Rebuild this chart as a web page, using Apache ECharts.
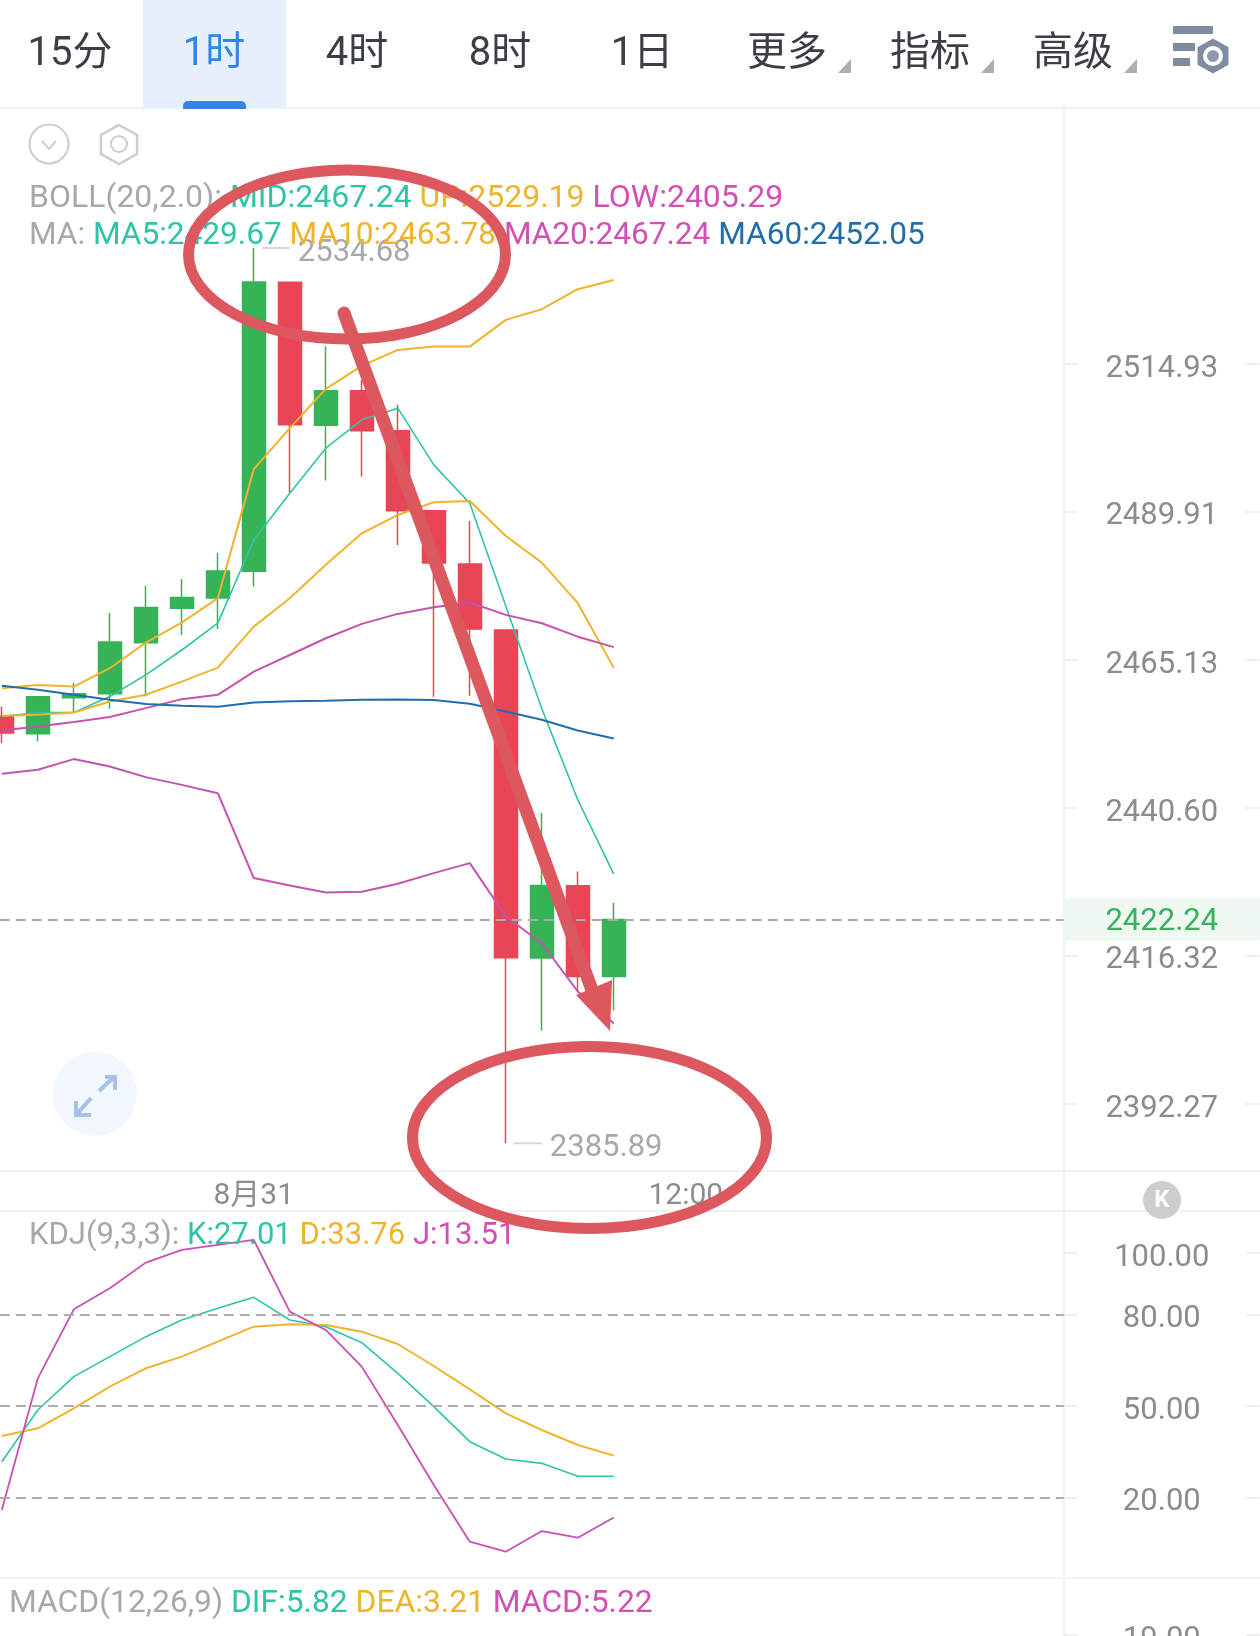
<!DOCTYPE html>
<html><head><meta charset="utf-8">
<style>html,body{margin:0;padding:0;background:#fff}#c{width:1260px;height:1636px}</style>
<script src="https://cdn.jsdelivr.net/npm/echarts@6/dist/echarts.min.js"></script>
</head><body><div id="c"></div>
<script>
const categories = ['','','','','','','','8月31','','','','','','','','','','','','12:00','','','','','','','','','',''];
// [open, close, low, high]
const candles = [
 [2455.70,2452.95,2451.29,2457.36],
 [2452.83,2458.97,2451.56,2458.97],
 [2458.80,2459.46,2456.31,2461.29],
 [2459.46,2468.10,2456.98,2472.95],
 [2467.98,2473.84,2459.02,2477.47],
 [2473.74,2475.51,2469.27,2478.64],
 [2475.46,2479.98,2470.27,2483.00],
 [2479.90,2528.88,2477.35,2534.68],
 [2528.80,2504.58,2493.08,2528.80],
 [2504.50,2510.33,2495.16,2517.96],
 [2510.33,2503.57,2495.84,2512.19],
 [2503.57,2490.08,2484.34,2507.96],
 [2490.08,2481.32,2458.97,2490.08],
 [2481.15,2470.27,2459.13,2488.35],
 [2470.11,2416.01,2385.89,2470.11],
 [2415.96,2427.82,2404.15,2439.80],
 [2427.77,2412.92,2410.49,2430.11],
 [2412.92,2422.24,2407.40,2424.98]
];
const ma5 = [2455.70,2456.36,2456.36,2459.02,2462.61,2466.76,2471.23,2485.17,2493.02,2500.63,2505.43,2507.40,2497.81,2491.33,2474.12,2456.98,2441.90,2429.67];
const ma10 = [2455.82,2455.98,2456.36,2458.19,2459.30,2461.50,2463.82,2470.66,2475.41,2480.99,2486.29,2489.36,2491.50,2491.72,2485.84,2481.37,2474.58,2463.78];
const ma20 = [2453.38,2454.04,2454.77,2455.60,2457.09,2458.58,2459.30,2463.16,2465.92,2468.72,2471.11,2472.78,2473.91,2474.68,2472.62,2471.23,2468.98,2467.24];
const ma60 = [2460.79,2460.13,2459.30,2458.47,2457.76,2457.47,2457.31,2458.02,2458.25,2458.30,2458.47,2458.52,2458.42,2457.81,2456.53,2455.15,2453.38,2452.05];
const bollUp = [2460.41,2460.95,2460.67,2463.72,2467.98,2471.33,2475.41,2497.09,2504.02,2510.67,2514.56,2517.28,2517.85,2517.85,2522.40,2524.22,2527.63,2529.19];
const bollLow = [2446.21,2446.87,2448.64,2447.42,2445.66,2444.38,2443.01,2429.03,2427.82,2426.67,2426.78,2428.10,2429.85,2431.49,2422.73,2418.36,2410.49,2405.29];
const kLine = [31.79,48.70,59.60,66.15,72.69,78.15,81.96,85.56,78.15,75.96,70.73,60.69,49.79,38.33,32.66,31.24,27.01,27.01];
const dLine = [40.19,42.70,49.24,56.33,62.33,66.15,71.06,75.96,76.73,76.51,74.33,70.29,63.09,55.46,47.60,42.15,37.24,33.76];
const jLine = [15.97,59.06,81.64,88.51,96.91,101.05,102.69,104.32,80.87,74.87,62.88,43.79,24.15,5.61,2.34,9.10,6.92,13.51];
const priceTicks = [2514.93,2489.91,2465.13,2440.60,2416.32,2392.27];
const kdjTicks = [100,80,50,20];
const kdjDashed = [80,50,20];
const macdTicks = [19];
const lastPrice = 2422.24, highPrice = 2534.68, lowPrice = 2385.89;
const tabs = ['15分','1时','4时','8时','1日','更多','指标','高级'];
const bollLegend = ['BOLL(20,2.0): ','MID:2467.24 ','UP:2529.19 ','LOW:2405.29'];
const maLegend = ['MA: ','MA5:2429.67 ','MA10:2463.78 ','MA20:2467.24 ','MA60:2452.05'];
const kdjLegend = ['KDJ(9,3,3): ','K:27.01 ','D:33.76 ','J:13.51'];
const macdLegend = ['MACD(12,26,9) ','DIF:5.82 ','DEA:3.21 ','MACD:5.22'];

const TEAL='#2ec4a6',YEL='#efb32c',MAG='#d24fb4',BLUE='#1f6eab',GRAY='#a8a8a8',AXT='#8c8c8c',ANN='#dc585e',
 GREEN='#36b257',RED='#e84656',FONT='Roboto, "Noto Sans CJK SC", sans-serif';
const LEFT=-16.2,W=1080;

function line(name,data,color,w,x,y){return {name,type:'line',data,xAxisIndex:x||0,yAxisIndex:y||0,symbol:'none',smooth:false,silent:true,animation:false,lineStyle:{color,width:w}};}
function dashed(vals){return {silent:true,symbol:'none',animation:false,lineStyle:{color:'#ababab',type:[10,6],width:2},label:{show:false},data:vals.map(v=>({yAxis:v}))};}
function yAx(grid,min,max,type,ticks,extra){return Object.assign({type,gridIndex:grid,min,max,position:'right',logBase:10,scale:true,
  axisLine:{show:false},splitLine:{show:false},
  axisTick:{show:true,length:14,customValues:ticks,lineStyle:{color:'#efefef',width:2}},
  axisLabel:{show:true,customValues:ticks,align:'center',margin:98,color:AXT,fontFamily:FONT,fontSize:31,
    formatter:v=>'{a|'+Number(v).toFixed(2)+'}',
    rich:{a:{color:AXT,fontFamily:FONT,fontSize:31,padding:[10,0,0,0]}}}},extra||{});}
function yAxRightEdge(grid,min,max,type,ticks){return {type,gridIndex:grid,min,max,position:'right',offset:196,scale:true,
  axisLine:{show:false},splitLine:{show:false},axisLabel:{show:false},
  axisTick:{show:true,inside:true,length:14,customValues:ticks,lineStyle:{color:'#efefef',width:2}}};}
const xAx=(g,show)=>({type:'category',gridIndex:g,data:categories,boundaryGap:true,axisLine:{show:false},axisTick:{show:false},splitLine:{show:false},
  axisLabel:{show,interval:0,color:AXT,fontFamily:FONT,fontSize:30,margin:10,hideOverlap:false}});

const el=[];
const add=(o,z)=>{o.z=z||50;o.silent=true;el.push(o);};
// top bar
add({type:'rect',shape:{x:143,y:0,width:143,height:108},style:{fill:'#e6f0fc'}},10);
add({type:'rect',shape:{x:183,y:101,width:63,height:8,r:[5,5,0,0]},style:{fill:'#3b82e4'}},11);
const tabX=[70,214,357,500,642,787,930,1073];
tabs.forEach((t,i)=>{add({type:'text',x:tabX[i],y:55,style:{text:t,fill:i===1?'#2d86ea':'#3a3f47',font:'400 40px Roboto, "Noto Sans CJK SC"',textAlign:'center',textVerticalAlign:'middle'}});
 if(i>=5){const x=tabX[i]+51;add({type:'polygon',shape:{points:[[x+13,59],[x+13,73],[x,73]]},style:{fill:'#a9afb6'}});}});
// settings icon
[[1173,26,1213,8],[1173,43,1195,8],[1173,58,1190,8]].forEach(r=>add({type:'rect',shape:{x:r[0],y:r[1],width:r[2]-r[0],height:r[3]},style:{fill:'#7f8ca0'}}));
add({type:'polygon',shape:{points:[[1213,38],[1229,47],[1229,65],[1213,74],[1197,65],[1197,47]]},style:{fill:'#7f8ca0',stroke:'#fff',lineWidth:1}});
add({type:'circle',shape:{cx:1213,cy:56,r:10},style:{fill:'#fff'}});
add({type:'circle',shape:{cx:1213,cy:56,r:6},style:{fill:'#8f9bad'}});
// separators
[108,1171,1211,1578].forEach(y=>add({type:'line',shape:{x1:0,y1:y,x2:1260,y2:y},style:{stroke:'#f1f1f1',lineWidth:2}},5));
add({type:'line',shape:{x1:1064,y1:108,x2:1064,y2:1636},style:{stroke:'#f0f0f0',lineWidth:2}},5);
// small icons
add({type:'circle',shape:{cx:49,cy:144,r:19.5},style:{fill:'none',stroke:'#c9cdd2',lineWidth:2}});
add({type:'polyline',shape:{points:[[42,141],[49,149],[56,141]]},style:{fill:'none',stroke:'#c9cdd2',lineWidth:2}});
add({type:'polygon',shape:{points:[[119,125],[137,135],[137,154],[119,164],[101,154],[101,135]]},style:{fill:'none',stroke:'#c9cdd2',lineWidth:2.5}});
add({type:'circle',shape:{cx:119,cy:144,r:8},style:{fill:'none',stroke:'#c9cdd2',lineWidth:2}});
// expand button
add({type:'circle',shape:{cx:95,cy:1094,r:42},style:{fill:'#f2f7fe'}});
[[[99,1091],[114,1077]],[[105,1077],[115,1077],[115,1090]],[[91,1098],[77,1114]],[[76,1101],[76,1115],[91,1115]]].forEach(p=>add({type:'polyline',shape:{points:p},style:{fill:'none',stroke:'#a5c2ea',lineWidth:4}}));
// K button
add({type:'circle',shape:{cx:1162,cy:1200,r:19},style:{fill:'#cbcdd0'}});
add({type:'text',x:1162,y:1201,style:{text:'K',fill:'#fff',font:'700 24px Roboto',textAlign:'center',textVerticalAlign:'middle'}});
// legends
function legend(x,y,parts,cols,fs){const rich={};let text='';parts.forEach((p,i)=>{rich['t'+i]={fill:cols[i],fontSize:fs,fontFamily:FONT};text+='{t'+i+'|'+p+'}';});
 add({type:'text',x,y,style:{text,rich,textVerticalAlign:'middle'}},40);}
legend(29,199,bollLegend,[GRAY,TEAL,YEL,MAG],32);
legend(29,236,maLegend,[GRAY,TEAL,YEL,MAG,BLUE],31.6);
legend(29,1236,kdjLegend,[GRAY,TEAL,YEL,MAG],31);
legend(9,1604,macdLegend,[GRAY,TEAL,YEL,MAG],31.8);
// annotations
add({type:'ellipse',shape:{cx:347,cy:254.5,rx:158.5,ry:84.5},style:{fill:'none',stroke:ANN,lineWidth:11}},100);
add({type:'ellipse',shape:{cx:589.5,cy:1137.5,rx:177,ry:91},style:{fill:'none',stroke:ANN,lineWidth:11}},100);
add({type:'line',shape:{x1:344,y1:313,x2:592,y2:990},style:{stroke:ANN,lineWidth:13,lineCap:'round'}},100);
add({type:'polygon',shape:{points:[[576,995],[612,980],[610,1031]]},style:{fill:ANN}},100);

const gridOf=(top,height)=>({left:LEFT,top,width:W,height,outerBoundsMode:'none',containLabel:false});
const option={
 animation:false,backgroundColor:'#fff',
 grid:[gridOf(108,1063),gridOf(1211,367),gridOf(1578,100)],
 xAxis:[xAx(0,true),xAx(1,false),xAx(2,false)],
 yAxis:[
  yAx(0,2381.43,2558.77,'log',priceTicks),
  yAxRightEdge(0,2381.43,2558.77,'log',priceTicks),
  yAx(1,-6.27,113.8,'value',kdjTicks,{interval:10}),
  yAxRightEdge(1,-6.27,113.8,'value',kdjTicks),
  yAx(2,-24,76,'value',macdTicks),
  yAxRightEdge(2,-24,76,'value',macdTicks)
 ],
 series:[
  {name:'K',type:'candlestick',data:candles,barWidth:23,silent:true,animation:false,clip:false,
   itemStyle:{color:GREEN,color0:RED,borderColor:GREEN,borderColor0:RED,borderWidth:1.5},
   markLine:{silent:true,symbol:'none',animation:false,lineStyle:{color:'#ababab',type:[10,6],width:2},
     data:[{yAxis:lastPrice}],
     label:{show:true,position:'end',distance:98,formatter:()=>'{a|'+lastPrice.toFixed(2)+'}',
       rich:{a:{color:'#37b25c',fontFamily:FONT,fontSize:31,padding:[8,0,0,0]}},
       backgroundColor:'#eef8f1',width:196,height:42,align:'center'}},
   markPoint:{silent:true,animation:false,symbol:'rect',symbolSize:[28,2],symbolOffset:[22,0],itemStyle:{color:'#d6d6d6'},
     data:[{coord:[7,highPrice],value:highPrice},{coord:[14,lowPrice],value:lowPrice}],
     label:{show:true,position:'right',distance:8,offset:[0,5],formatter:p=>p.value.toFixed(2),color:GRAY,fontSize:31,fontFamily:FONT}}
  },
  line('UP',bollUp,YEL,2),
  line('LOW',bollLow,'#c552b0',2),
  line('MA5',ma5,TEAL,1.6),
  line('MA10',ma10,YEL,2),
  line('MA20',ma20,'#c552b0',2),
  line('MA60',ma60,BLUE,2),
  Object.assign(line('K',kLine,TEAL,1.6,1,2),{markLine:dashed(kdjDashed)}),
  line('D',dLine,YEL,2,1,2),
  line('J',jLine,'#c94fb0',1.8,1,2),
  line('MACD',[],MAG,2,2,4)
 ],
 graphic:{elements:el}
};
const chart=echarts.init(document.getElementById('c'),null,{renderer:'canvas',width:1260,height:1636});
chart.setOption(option);
</script></body></html>
